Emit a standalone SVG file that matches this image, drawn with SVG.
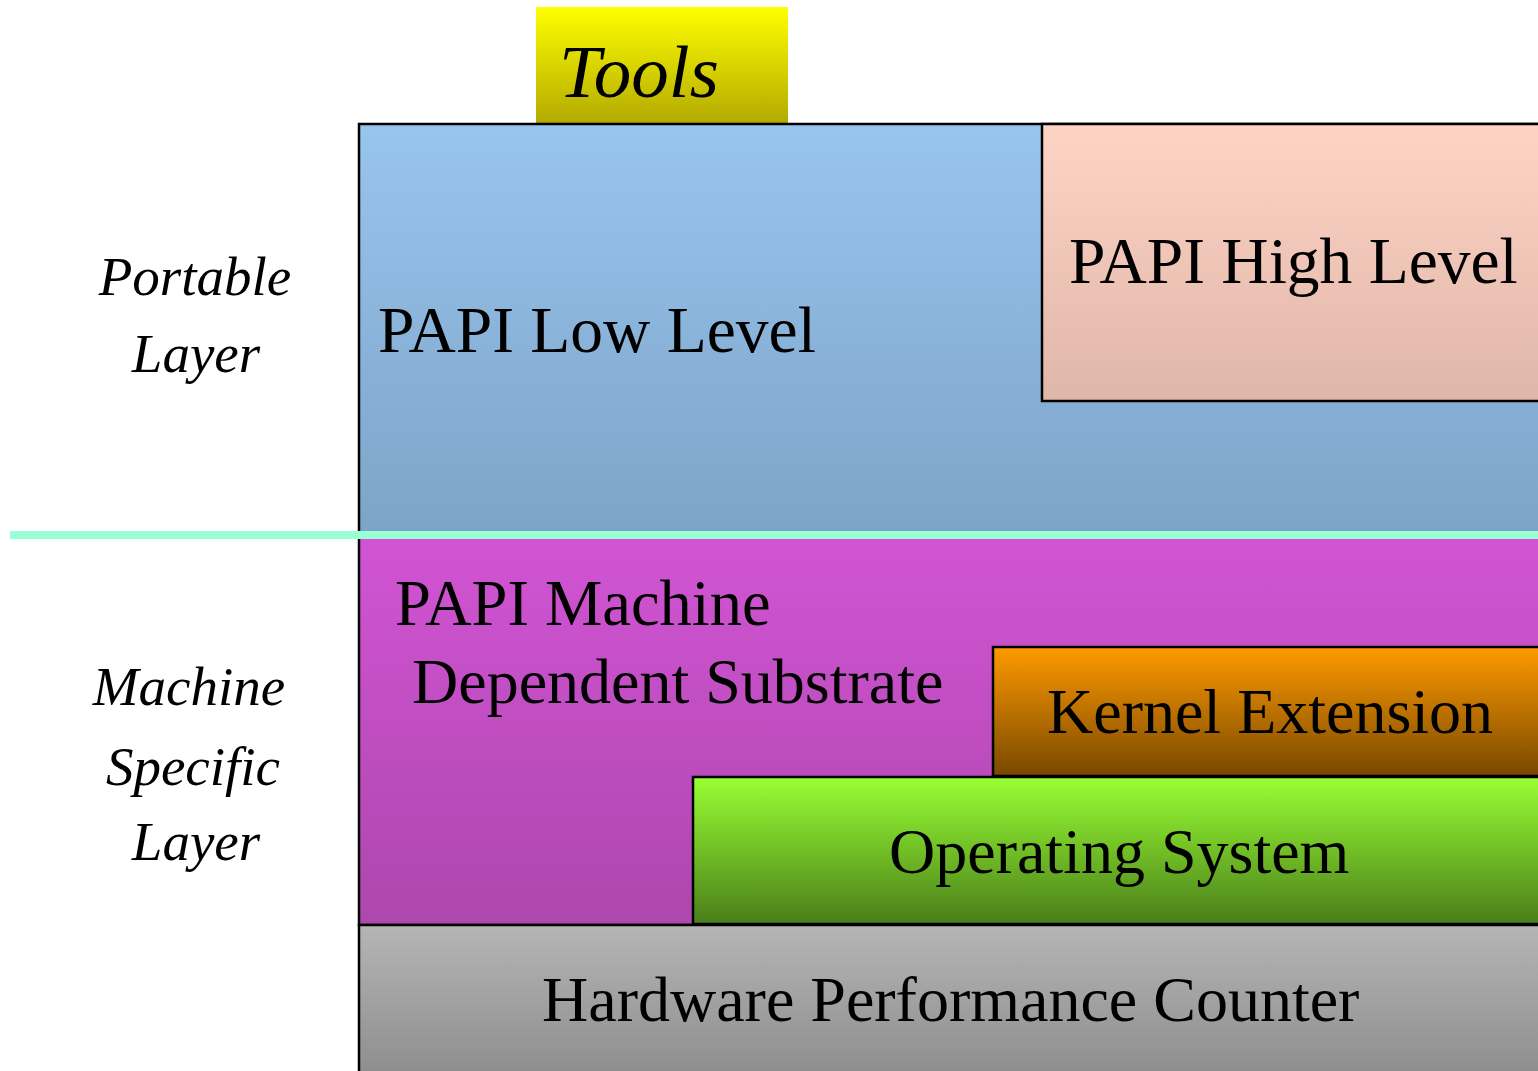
<svg xmlns="http://www.w3.org/2000/svg" width="1538" height="1071" viewBox="0 0 1538 1071">
  <defs>
    <linearGradient id="gTools" x1="0" y1="0" x2="0" y2="1">
      <stop offset="0" stop-color="#ffff00"/>
      <stop offset="1" stop-color="#b3aa00"/>
    </linearGradient>
    <linearGradient id="gLow" x1="0" y1="0" x2="0" y2="1">
      <stop offset="0" stop-color="#98c5ed"/>
      <stop offset="1" stop-color="#7ea3c8"/>
    </linearGradient>
    <linearGradient id="gHigh" x1="0" y1="0" x2="0" y2="1">
      <stop offset="0" stop-color="#fdd4c4"/>
      <stop offset="1" stop-color="#dfb6aa"/>
    </linearGradient>
    <linearGradient id="gMach" x1="0" y1="0" x2="0" y2="1">
      <stop offset="0" stop-color="#d254d4"/>
      <stop offset="1" stop-color="#ad47ad"/>
    </linearGradient>
    <linearGradient id="gKern" x1="0" y1="0" x2="0" y2="1">
      <stop offset="0" stop-color="#ff9a00"/>
      <stop offset="1" stop-color="#784800"/>
    </linearGradient>
    <linearGradient id="gOS" x1="0" y1="0" x2="0" y2="1">
      <stop offset="0" stop-color="#99ff33"/>
      <stop offset="1" stop-color="#4a7e1a"/>
    </linearGradient>
    <linearGradient id="gHW" x1="0" y1="0" x2="0" y2="1">
      <stop offset="0" stop-color="#b5b5b5"/>
      <stop offset="1" stop-color="#8b8b8b"/>
    </linearGradient>
  </defs>
  <style>
    .box { stroke: #000; stroke-width: 2.5; }
    .lbl { font-family: "Liberation Serif", "Times New Roman", serif; font-size: 64px; fill: #000; }
    .big { font-size: 65.5px; }
    .side { font-family: "Liberation Serif", "Times New Roman", serif; font-style: italic; font-size: 55px; fill: #000; text-anchor: middle; }
  </style>

  <rect width="1538" height="1071" fill="#fff"/>

  <!-- Tools block above the stack -->
  <g id="tools">
    <rect x="536" y="7" width="252" height="116" fill="url(#gTools)"/>
    <text x="559" y="97" class="side" style="text-anchor:start;font-size:75px">Tools</text>
  </g>

  <!-- Portable layer -->
  <g id="papi-low-level">
    <rect class="box" x="359" y="124" width="1190" height="411" fill="url(#gLow)"/>
    <text x="378" y="352" class="lbl big">PAPI Low Level</text>
  </g>
  <g id="papi-high-level">
    <rect class="box" x="1042" y="124" width="510" height="277" fill="url(#gHigh)"/>
    <text x="1069" y="283" class="lbl big">PAPI High Level</text>
  </g>

  <!-- Machine specific layer -->
  <g id="papi-substrate">
    <rect class="box" x="359" y="535" width="1190" height="390" fill="url(#gMach)"/>
    <text x="395" y="625" class="lbl" style="font-size:64.5px">PAPI Machine</text>
    <text x="412" y="703" class="lbl">Dependent Substrate</text>
  </g>
  <g id="kernel-extension">
    <rect class="box" x="993" y="647" width="560" height="129" fill="url(#gKern)"/>
    <text x="1047" y="733" class="lbl">Kernel Extension</text>
  </g>
  <g id="operating-system">
    <rect class="box" x="693" y="777" width="860" height="147" fill="url(#gOS)"/>
    <text x="889" y="873" class="lbl">Operating System</text>
  </g>
  <g id="hardware-counter">
    <rect class="box" x="359" y="925" width="1190" height="160" fill="url(#gHW)"/>
    <text x="542" y="1021" class="lbl">Hardware Performance Counter</text>
  </g>

  <!-- Divider between the two layers -->
  <g id="connectors">
    <line x1="10" y1="535" x2="1538" y2="535" stroke="#99ffd4" stroke-width="8"/>
  </g>

  <!-- Layer captions -->
  <g id="portable-layer">
    <text x="195" y="295" class="side">Portable</text>
    <text x="196" y="372" class="side">Layer</text>
  </g>
  <g id="machine-specific-layer">
    <text x="189" y="705" class="side">Machine</text>
    <text x="193" y="785" class="side">Specific</text>
    <text x="196" y="860" class="side">Layer</text>
  </g>
</svg>
